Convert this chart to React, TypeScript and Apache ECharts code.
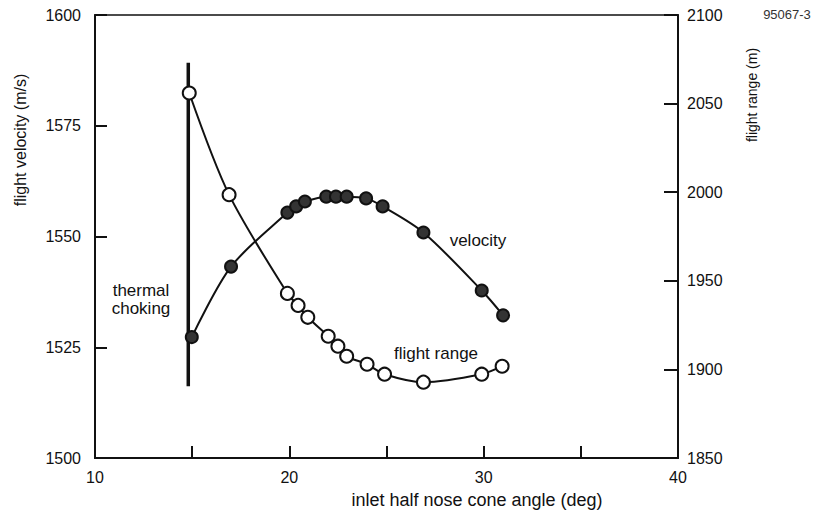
import React, { useEffect, useRef } from "react";
import * as echarts from "echarts";

const velocityAngles = [14.98, 17.0, 19.9, 20.35, 20.8, 21.9, 22.4, 22.95, 23.95, 24.8, 26.9, 29.9, 31.0];
const velocityValues = [1527.3, 1543.2, 1555.4, 1556.8, 1557.9, 1559.0, 1559.0, 1559.0, 1558.6, 1556.8, 1550.9, 1537.8, 1532.2];

const rangeAngles = [14.85, 16.9, 19.9, 20.45, 20.95, 22.0, 22.5, 22.95, 24.0, 24.9, 26.9, 29.9, 30.95];
const rangeValues = [2056, 1998.6, 1942.9, 1936.1, 1929.4, 1918.7, 1913.1, 1907.4, 1902.9, 1897.3, 1892.8, 1897.3, 1901.8];

const chokingAngle = 14.8;
const chokingVelocityRange = [1516.2, 1589.2];

const xTickLabels = [10, 20, 30, 40];

const FONT = "'Liberation Sans', Arial, Helvetica, sans-serif";

export default function App() {
  const ref = useRef<HTMLDivElement>(null);

  useEffect(() => {
    if (!ref.current) return;
    const chart = echarts.init(ref.current, null, { renderer: "svg" });
    const velData = velocityAngles.map((a, i) => [a, velocityValues[i]]);
    const rangeData = rangeAngles.map((a, i) => [a, rangeValues[i]]);
    const chokeData = chokingVelocityRange.map((v) => [chokingAngle, v]);

    const txt = (text: string, x: number, y: number, fontSize: number, rot = 0, extra: any = {}) => ({
      type: "text",
      x,
      y,
      rotation: rot,
      style: {
        text,
        fontSize,
        fontFamily: FONT,
        fill: "#111",
        align: "center",
        verticalAlign: "middle",
        ...extra,
      },
    });

    chart.setOption({
      animation: false,
      backgroundColor: "#fff",
      textStyle: { fontFamily: FONT, color: "#111" },
      grid: {
        left: 95,
        right: 143,
        top: 15,
        bottom: 59,
        show: true,
        borderColor: "#111",
        borderWidth: 1.5,
      },
      xAxis: {
        type: "value",
        min: 10,
        max: 40,
        interval: 5,
        axisLine: { show: true, lineStyle: { color: "#111", width: 2 } },
        axisTick: { show: true, inside: true, length: 12, lineStyle: { color: "#111", width: 2 } },
        axisLabel: {
          fontSize: 16,
          color: "#111",
          margin: 11,
          fontFamily: FONT,
          formatter: (v: number) => (xTickLabels.includes(v) ? String(v) : ""),
        },
        splitLine: { show: false },
      },
      yAxis: [
        {
          type: "value",
          min: 1500,
          max: 1600,
          interval: 25,
          position: "left",
          axisLine: { show: true, lineStyle: { color: "#111", width: 2 } },
          axisTick: { show: true, inside: true, length: 12, lineStyle: { color: "#111", width: 2 } },
          axisLabel: {
            fontSize: 16,
            color: "#111",
            margin: 14,
            fontFamily: FONT,
            formatter: (v: number) => String(v),
          },
          splitLine: { show: false },
        },
        {
          type: "value",
          min: 1850,
          max: 2100,
          interval: 50,
          position: "right",
          axisLine: { show: true, lineStyle: { color: "#111", width: 2 } },
          axisTick: { show: true, inside: true, length: 14, lineStyle: { color: "#111", width: 2 } },
          axisLabel: {
            fontSize: 16,
            color: "#111",
            margin: 9,
            fontFamily: FONT,
            formatter: (v: number) => String(v),
          },
          splitLine: { show: false },
        },
      ],
      graphic: [
        txt("flight velocity (m/s)", 20, 140, 16, Math.PI / 2),
        txt("flight range (m)", 752, 95, 14, Math.PI / 2),
        txt("95067-3", 787, 14, 13, 0, { fill: "#333" }),
        txt("thermal\nchoking", 141, 299, 17, 0, { lineHeight: 18 }),
        txt("velocity", 478, 240, 17),
        txt("flight range", 436, 353, 17),
        txt("inlet half nose cone angle (deg)", 477, 500, 18),
      ],
      series: [
        {
          name: "thermal choking",
          type: "line",
          yAxisIndex: 0,
          data: chokeData,
          showSymbol: false,
          symbol: "none",
          lineStyle: { color: "#111", width: 3.5 },
          z: 2,
        },
        {
          name: "flight range",
          type: "line",
          yAxisIndex: 1,
          data: rangeData,
          smooth: 0.3,
          symbol: "circle",
          symbolSize: 13,
          itemStyle: { color: "#fff", borderColor: "#111", borderWidth: 2 },
          lineStyle: { color: "#111", width: 2 },
          z: 3,
        },
        {
          name: "velocity",
          type: "line",
          yAxisIndex: 0,
          data: velData,
          smooth: 0.3,
          symbol: "circle",
          symbolSize: 12,
          itemStyle: { color: "#333", borderColor: "#111", borderWidth: 2 },
          lineStyle: { color: "#111", width: 2 },
          z: 4,
        },
      ],
    });
    return () => chart.dispose();
  }, []);

  return (
    <div
      ref={ref}
      style={{ position: "absolute", left: 0, top: 0, width: 821, height: 517, background: "#fff" }}
    />
  );
}
